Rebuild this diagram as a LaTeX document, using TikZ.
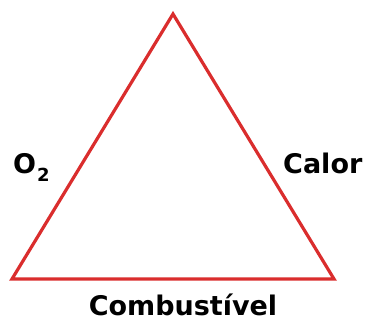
\documentclass[tikz,border=0pt]{standalone}
\usepackage{fontspec}
\setmainfont{DejaVu Sans}
\definecolor{fogo}{RGB}{218,45,45}
\tikzset{rotulo/.style={font=\bfseries\fontsize{27}{30}\selectfont, inner sep=0pt}}
\begin{document}
\begin{tikzpicture}[x=1pt,y=-1pt]
            \useasboundingbox (0,0) rectangle (370,323);

            \coordinate (topo) at (173,14);
            \coordinate (esq) at (12,279);
            \coordinate (dir) at (334,279);

            \draw[fogo, line width=3.2pt, line join=miter] (topo) -- (esq) -- (dir) -- cycle;

            \node[rotulo, anchor=base west] (oxigenio) at (13,174) {O\kern1pt\raisebox{-8pt}{\fontsize{18}{20}\selectfont 2}};
            \node[rotulo, anchor=base west] (calor) at (283,174) {Calor};
            \node[rotulo, anchor=base] (combustivel) at (183,316) {Combustível};
        \end{tikzpicture}
\end{document}
